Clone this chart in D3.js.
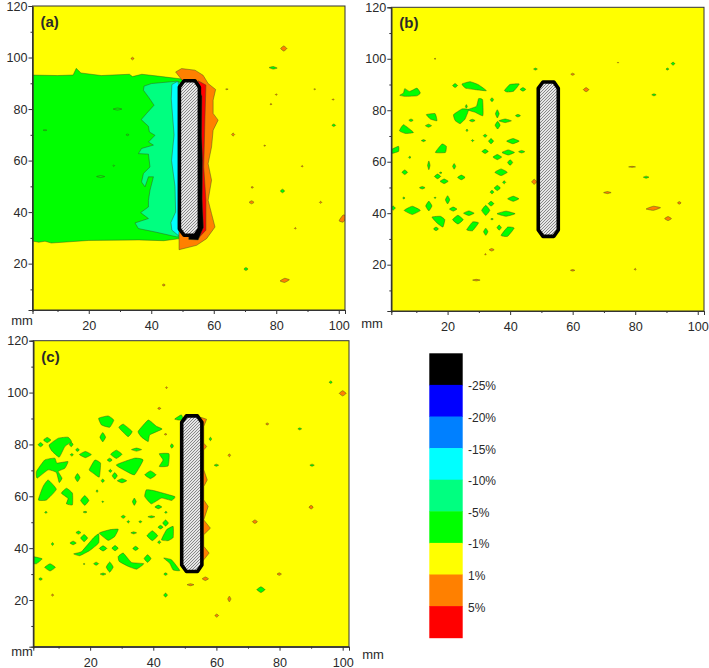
<!DOCTYPE html>
<html>
<head>
<meta charset="utf-8">
<style>
  body { margin: 0; background: #fff; }
  text { font-family: "Liberation Sans", Arial, sans-serif; fill: #2a2a2a; }
  .axis path, .axis line { stroke: #333; }
  .axis text { font-size: 12.6px; font-family: "Liberation Sans", Arial, sans-serif; fill: #2a2a2a; }
  .contour { stroke: #3c4a20; stroke-width: 0.6; stroke-opacity: 0.75; }
</style>
<script src="https://cdn.jsdelivr.net/npm/d3@7"></script>
</head>
<body>
<svg width="709" height="668"></svg>
<script>
// Axis values
var xDomain = [2, 102];
var yDomain = [2, 120];
var xMajor = [20, 40, 60, 80, 100];
var xMinor = [10, 30, 50, 70, 90];
var yMajor = [20, 40, 60, 80, 100, 120];
var yMinor = [10, 30, 50, 70, 90, 110];

// Colour bar
var legendColors = ['#000000', '#0000ff', '#0080ff', '#00ffff', '#00ff80', '#00ff00', '#ffff00', '#ff8000', '#ff0000'];
var legendLabels = ['-25%', '-20%', '-15%', '-10%', '-5%', '-1%', '1%', '5%'];

var GREEN = '#00ff00', SPRING = '#00ff80', CYAN = '#00ffff', ORANGE = '#ff8000', RED = '#ff0000', BLACK = '#000000';

// The notch outline, mm
var notch = [[49, 88.5], [50.5, 91], [54, 91], [55.4, 88.5], [55.4, 33.5], [54, 31], [50.5, 31], [49, 33.5]];

// Panel (a) contour regions, mm
var aGreen = [[1, 93.2], [10, 93], [15, 93.2], [16, 95.8], [17.5, 94], [24, 93], [33, 93.5], [34, 92.6], [37, 93.5], [42, 92.8], [46, 92.2], [51, 91.5],
  [51, 30], [44, 28.9], [36, 29.2], [20, 29], [8, 28], [6, 28.7], [4, 28.3], [1, 29]];
var aSpring = [[37.7, 88.9], [40.1, 89.9], [48.1, 90.8], [50, 90], [50, 30.4], [48.1, 30.4], [41.2, 32.3], [35.9, 33.6], [34.8, 35.8], [39.1, 37.5], [36.6, 39.8], [39.1, 42],
  [39.1, 44.6], [39.6, 48.5], [40.7, 53.7], [39.1, 53.7], [38, 49.8], [36.9, 51.7], [37.5, 55], [39.6, 57.5], [39.1, 62.5], [35.9, 62.7], [36.9, 64.7], [40.7, 66],
  [39.1, 67.2], [41.2, 69.8], [39.4, 71.1], [39.1, 73.3], [36.8, 75.9], [38.5, 78.3], [40.9, 81.5], [39.1, 84.7], [37.5, 87.3]];
var aCyan = [[48.5, 90.8], [46.6, 89.5], [46.4, 84], [47.3, 70], [46.5, 60], [47.6, 50], [47.8, 40], [46.3, 36], [46.6, 33], [48.8, 30.8], [50, 40], [50, 80]];
var aOrange = [[47.8, 94.4], [49.7, 95.7], [54, 95.1], [56.6, 93.1], [58.2, 89.9], [60.6, 87.6], [59.8, 83.4], [59.8, 78.3], [61.4, 75.7], [59.8, 71.8], [59.3, 65.3],
  [58.2, 58.8], [59.3, 52.4], [58.2, 44.6], [59.3, 39.4], [60.4, 34.2], [57.7, 29.7], [54.5, 27.1], [48.9, 25.4], [48.9, 31], [50, 91]];
var aRed = [[55, 91], [57.5, 89.3], [57.2, 77], [56.8, 57.5], [57.5, 44.6], [57.5, 33], [55, 29.8]];
var aBlack = [[55, 88], [56.2, 85], [56.1, 70], [56.4, 60], [56.3, 45], [56.7, 34], [55, 29.2], [52, 29.4], [52, 60]];

// Small closed contours as [x, y, half width, half height, tilt], mm
var aGreenDots = [[79, 96, 1.3, 0.5, -0.2], [98.4, 73.7, 0.6, 0.5], [82, 48.2, 0.7, 0.7], [70.3, 17.9, 0.7, 0.6],
  [29.2, 80, 1.4, 0.4], [6, 71.8, 0.6, 0.2], [32.4, 70, 0.5, 0.3], [23.8, 53.8, 1.3, 0.4], [28, 58, 0.3, 0.3]];
var aOrangeDots = [[82.4, 103.5, 1, 1], [34, 99.6, 0.5, 0.5], [66.2, 70.1, 0.5, 0.6], [72.1, 43.8, 0.8, 0.6], [82.7, 13.5, 1.5, 0.8, 0.3],
  [101.4, 37.5, 1.3, 1.4, 0.6], [44, 11.7, 0.5, 0.4], [94.2, 43.8, 0.4, 0.4], [80, 85.6, 0.3, 0.3], [78.3, 81.9, 0.3, 0.3], [98.2, 83.7, 0.3, 0.3],
  [76.3, 65.8, 0.3, 0.2], [72.3, 49.6, 0.4, 0.3], [88.3, 57.8, 0.3, 0.3], [86.1, 33.7, 0.3, 0.3], [92.3, 87.7, 0.3, 0.2], [64.2, 87.7, 0.4, 0.2]];

// Panel (b) larger contours, mm
var bGreenShapes = [
  [[4.7, 85.8], [5.9, 86.7], [6.3, 88.4], [7.9, 87.3], [10.2, 88.6], [11.3, 86.7], [10.2, 85.6], [6.5, 85.4]],
  [[24.6, 90.2], [27.2, 91.1], [29.9, 89.9], [32.4, 87.6], [28.9, 88], [25.7, 88.6]],
  [[38.2, 87.7], [39.9, 90], [42.9, 90.2], [41.1, 87.4], [39, 87.1]],
  [[26.4, 80.2], [29.2, 81.5], [29.9, 84.5], [31.2, 84.1], [31.3, 77.9], [28.8, 79.2]],
  [[21.9, 78.3], [24.6, 80.5], [26.7, 80.2], [25.6, 76.6], [24, 74.8], [22.4, 76]],
  [[13.2, 78.3], [16, 78.7], [16.6, 75.9], [14.5, 76.6]],
  [[4.6, 72], [5.9, 74.4], [9.1, 71.4], [6.5, 71]],
  [[16.1, 63.6], [18.2, 66.9], [19.6, 66], [19.3, 63.6]],
  [[1.5, 63], [1.5, 64.4], [4.3, 66], [4.3, 64]],
  [[15, 38.5], [17.7, 38.8], [19.1, 37.5], [18.5, 34.6], [16.6, 36.2]]
];
var bGreenDots = [[22.4, 89.6, 0.8, 0.8], [44.1, 88.1, 0.9, 0.7], [34.2, 84.1, 0.5, 0.8], [26, 81.5, 0.3, 0.7], [8.3, 76.1, 0.7, 0.5], [13.9, 74, 1, 0.6], [27.9, 76, 0.9, 0.5],
  [35.9, 78.6, 0.6, 1.6], [42.5, 77.9, 0.8, 0.5], [36, 74.2, 0.8, 1.5], [38.4, 75.9, 2, 0.7], [26.2, 72.2, 0.3, 0.5], [32, 70.1, 0.6, 0.6], [12.3, 68.2, 0.7, 0.4],
  [28, 68.2, 0.4, 0.4], [33.9, 68, 0.8, 1], [40.9, 68, 2, 1], [32, 64, 1, 0.8], [39.4, 63.6, 2, 1], [43.7, 63.9, 1, 0.5], [35.9, 61.8, 1.4, 1], [7.9, 61.7, 0.4, 0.4],
  [40, 59.7, 0.8, 1.1], [14, 58.6, 0.4, 1.7], [22.1, 58.2, 0.5, 1.1], [6.3, 55.9, 0.9, 0.9], [37.1, 55.9, 2, 1.3], [16.8, 54.3, 1, 0.9], [18.9, 52.4, 1.3, 0.9],
  [17.8, 55.7, 0.4, 0.3], [24.4, 53.9, 1.2, 0.9], [38.1, 52, 0.5, 0.6], [11.9, 49.9, 0.9, 0.5], [35.9, 49.8, 1, 1], [34.2, 48.2, 0.6, 0.7], [6, 45.9, 0.4, 0.4],
  [16, 46, 0.3, 0.3], [20, 45.2, 0.7, 1.6], [41, 45.6, 1.8, 1], [14, 42.8, 1, 1.9], [33.9, 43.7, 0.9, 0.9], [8.7, 41.1, 2.6, 1.6], [2.6, 42, 0.7, 0.8], [21.8, 41.6, 1.2, 0.8],
  [32.2, 41.1, 1.3, 2], [26.8, 40, 1.7, 0.9], [38.7, 39.8, 2.9, 1], [23.3, 37.5, 1.7, 1.7], [28, 34.9, 1.9, 1.7, 0.8], [16.3, 33.9, 0.8, 0.7], [32.2, 32.8, 0.7, 1.4],
  [36.5, 34.4, 0.7, 1], [39.2, 32.8, 2.1, 1.8, 0.8], [34.2, 37.7, 0.4, 0.3], [48.1, 96, 0.6, 0.4], [90.3, 96, 0.5, 0.4], [92.1, 98.1, 0.6, 0.6], [86, 86, 0.7, 0.4], [83.5, 54, 0.9, 0.4]];
var bOrangeDots = [[64.3, 88, 0.9, 0.8], [60, 94, 0.6, 0.4], [34.1, 25.8, 0.8, 0.5], [29.2, 14, 1.2, 0.3], [60, 17.8, 0.7, 0.3], [80, 18.2, 0.3, 0.4], [16, 100, 0.3, 0.2],
  [47.7, 52.2, 0.8, 1], [71.1, 48, 1.2, 0.4], [79, 58, 1.1, 0.2], [85.8, 41.9, 2.3, 0.8, 0.3], [90.5, 37.9, 1.1, 0.8], [94.1, 44, 0.6, 0.5], [32.1, 24, 0.2, 0.3], [74.5, 98.5, 0.2, 0.2]];

// Panel (c) larger contours, mm
var cGreenShapes = [
  [[7, 79.8], [9.9, 82.4], [13, 82.8], [14.1, 81.1], [12, 79.2], [10.2, 75.1], [7.8, 77.6]],
  [[3.2, 67], [3, 69.6], [5.6, 74], [8.8, 74.7], [9.5, 72.8], [13, 73.4], [12, 70.8], [9.9, 69.6], [11.1, 67], [10.2, 65.3], [9.3, 69.2], [6.7, 70.2]],
  [[3.6, 58.6], [5.1, 63.8], [6.7, 66.3], [9.3, 62.7], [6.2, 58.6]],
  [[10.9, 61.2], [12.5, 63.1], [14.4, 61.2], [14.4, 56.7], [12.5, 57.1], [13, 59.2]],
  [[19.7, 70.2], [21.5, 74], [23.3, 72.8], [22.9, 67.4], [21, 68.9]],
  [[22.7, 90.1], [25.7, 91], [27.5, 89.4], [26.2, 86.6], [23.6, 87.5]],
  [[29.1, 86.5], [30.5, 87.8], [33.3, 85], [32, 83]],
  [[35.2, 85], [38.4, 89.4], [41, 87], [42.8, 85.9], [38.9, 83.7], [38.4, 81.1], [36.3, 82.8]],
  [[28.3, 72.1], [34.1, 74.7], [36.8, 74], [34.1, 68.3], [31.5, 69.6]],
  [[41.9, 76.4], [45, 76.4], [44.7, 71.7], [41.9, 71.5], [43.1, 74]],
  [[37.8, 62.5], [40.1, 62.2], [46.8, 59.9], [45.8, 58.4], [42.6, 59.3], [39.4, 57.1], [37.3, 59.9]],
  [[42.6, 43.2], [44.2, 47.1], [46.3, 48.4], [46.3, 44.1], [44.7, 42.9]],
  [[22.9, 45.8], [26.2, 47.1], [28.9, 47.3], [27.8, 44.5], [25.7, 43]],
  [[14.8, 37.8], [17.3, 38.7], [21, 43.9], [22.7, 45.5], [22.7, 42], [19.9, 39.1], [16.7, 37.1]],
  [[28.9, 36.8], [30.5, 38.1], [33.1, 34.5], [37, 34], [34.7, 31.9], [32, 33], [29.2, 34.9]],
  [[1.5, 36.8], [4.8, 35.9], [3, 34], [1.5, 34.2]],
  [[43.3, 36.2], [45.8, 35.5], [48.4, 31.4], [46.3, 31.6], [45.2, 34.2]],
  [[46.8, 89.8], [48.9, 91.4], [49.5, 89.4], [48, 89.4]]
];
var cGreenDots = [[18.3, 58.4, 1.3, 1.9], [16, 67.2, 0.8, 1.6], [6.4, 81.7, 1.2, 1], [4.3, 79.9, 0.8, 0.8], [14, 80, 0.6, 0.9], [16, 77.9, 0.6, 0.6], [14.2, 76, 0.5, 0.5],
  [18.5, 76.1, 1.9, 1.2], [24, 82.8, 0.9, 1.8], [34.7, 78, 1.6, 0.6], [28.3, 76.2, 1.8, 1.6], [26.2, 74, 0.8, 0.7], [27.8, 67.9, 0.8, 1.3], [30.1, 66, 1.5, 0.8],
  [39.1, 68.3, 1.8, 1.5], [26.4, 69.8, 0.5, 0.6], [24, 66, 0.5, 0.7], [22.2, 62, 0.3, 0.5], [45.9, 79.4, 0.5, 0.9], [41.6, 55.9, 1.1, 0.7], [44, 53.8, 0.4, 0.4],
  [34, 57.9, 0.6, 1.4], [24, 57.9, 0.3, 0.3], [18.4, 53.9, 0.6, 0.3], [6, 53.8, 0.4, 0.4], [30.5, 52.1, 0.7, 0.6], [32.1, 50.2, 0.4, 0.5], [35.9, 50.2, 0.5, 0.4],
  [39.4, 52.1, 1.1, 0.4], [43.9, 49.7, 0.9, 1.2], [42.3, 48.1, 0.8, 0.7], [39.7, 44.8, 1.7, 1.9], [33.8, 45.9, 0.9, 0.4], [41.9, 42.3, 0.5, 0.6], [18.1, 43.9, 1.1, 1.4],
  [16.3, 46, 0.8, 0.6], [14.6, 42, 1, 0.7], [8.1, 41.6, 0.4, 0.6], [24.1, 39.9, 1.2, 1], [27.9, 40, 1, 1], [34.4, 39.9, 0.9, 0.8], [38.2, 36, 1.1, 1.5], [26.2, 32.7, 1.1, 2],
  [21.9, 34, 0.8, 0.6], [18.1, 33.9, 0.3, 0.2], [24.1, 30, 0.9, 0.4], [43.9, 30, 0.6, 0.5], [43.9, 21.9, 0.6, 0.8], [4.3, 28.1, 0.6, 0.5], [7.3, 32.6, 1.7, 1.4],
  [58.1, 82.1, 0.4, 0.7], [60, 72, 0.7, 0.4], [90.3, 72, 0.7, 0.4], [86.4, 86, 0.6, 0.4], [96.2, 104, 0.5, 0.5], [74.1, 24, 1.3, 1.1]];
var cOrangeDots = [[100, 99.7, 1.1, 1], [76.1, 87.9, 0.5, 0.4], [64.1, 75.8, 0.4, 0.6], [41.9, 93.9, 0.5, 0.4], [44.2, 101.9, 0.3, 0.3], [72.2, 50.2, 0.8, 0.7], [90, 55.8, 0.7, 0.7],
  [79.9, 30, 0.7, 0.5], [56.5, 28.2, 1, 0.7], [51.8, 25.9, 1.1, 0.4], [60.1, 14, 0.6, 0.6], [64.1, 20.4, 0.5, 1.1], [8.1, 21.9, 0.4, 0.4], [43.9, 83.9, 0.4, 0.3]];
var cOrangeEdge = [[55, 90.5], [56.9, 89.7], [56, 86.9], [56, 80.5], [56.9, 79.2], [56, 77.9], [56, 70.2], [57.1, 66.3], [56, 63.8], [56, 58.6], [57.4, 56.1], [56, 50.9],
  [58.1, 47.7], [56, 45.2], [56, 40.7], [57.7, 38.1], [56, 35.5], [55, 34.2]];

var panels = [
  { name: 'a', left: 32.5, right: 345, top: 6, bottom: 310, mm: [[22, 325]],
    regions: [[aGreen, GREEN], [aSpring, SPRING], [aCyan, CYAN], [aOrange, ORANGE], [aRed, RED], [aBlack, BLACK]],
    shapes: [], greenDots: aGreenDots, orangeDots: aOrangeDots },
  { name: 'b', left: 391.3, right: 704, top: 7.3, bottom: 311, mm: [[372, 328]],
    regions: [], shapes: bGreenShapes, greenDots: bGreenDots, orangeDots: bOrangeDots },
  { name: 'c', left: 33.3, right: 349, top: 340.7, bottom: 646.7, mm: [[22, 656], [373, 659]],
    regions: [[cOrangeEdge, ORANGE]], shapes: cGreenShapes, greenDots: cGreenDots, orangeDots: cOrangeDots }
];

var svg = d3.select('svg');
var defs = svg.append('defs');

// Hatching inside the notch
var hatch = defs.append('pattern')
  .attr('id', 'hatch')
  .attr('width', 3)
  .attr('height', 3)
  .attr('patternUnits', 'userSpaceOnUse');
hatch.append('rect').attr('width', 3).attr('height', 3).attr('fill', '#e6e6e6');
hatch.append('path')
  .attr('d', 'M-1,1 L1,-1 M0,3 L3,0 M2,4 L4,2')
  .attr('stroke', '#6f6f6f')
  .attr('stroke-width', 0.8);

// Turn a small contour into four outline points
function dotPoints(d) {
  var tilt = d[4] || 0;
  return [[d[0] - d[2], d[1] - tilt * d[3]], [d[0], d[1] + d[3]], [d[0] + d[2], d[1] + tilt * d[3]], [d[0], d[1] - d[3]]];
}

function drawPanel(p) {
  var x = d3.scaleLinear().domain(xDomain).range([p.left, p.right]);
  var y = d3.scaleLinear().domain(yDomain).range([p.bottom, p.top]);
  var g = svg.append('g');

  defs.append('clipPath').attr('id', 'clip-' + p.name)
    .append('rect')
    .attr('x', p.left).attr('y', p.top)
    .attr('width', p.right - p.left).attr('height', p.bottom - p.top);

  var plot = g.append('g').attr('clip-path', 'url(#clip-' + p.name + ')');

  plot.append('rect')
    .attr('x', p.left).attr('y', p.top)
    .attr('width', p.right - p.left).attr('height', p.bottom - p.top)
    .attr('fill', '#ffff00');

  var smooth = d3.line().x(function (d) { return x(d[0]); }).y(function (d) { return y(d[1]); })
    .curve(d3.curveCardinalClosed.tension(0.6));
  var straight = d3.line().x(function (d) { return x(d[0]); }).y(function (d) { return y(d[1]); })
    .curve(d3.curveLinearClosed);

  p.regions.forEach(function (r) {
    plot.append('path').attr('class', 'contour').attr('d', straight(r[0])).attr('fill', r[1]);
  });
  p.shapes.forEach(function (s) {
    plot.append('path').attr('class', 'contour').attr('d', smooth(s)).attr('fill', GREEN);
  });
  plot.selectAll('path.green-dot').data(p.greenDots).enter().append('path')
    .attr('class', 'contour green-dot')
    .attr('d', function (d) { return smooth(dotPoints(d)); })
    .attr('fill', GREEN);
  plot.selectAll('path.orange-dot').data(p.orangeDots).enter().append('path')
    .attr('class', 'contour orange-dot')
    .attr('d', function (d) { return smooth(dotPoints(d)); })
    .attr('fill', ORANGE);

  plot.append('path')
    .attr('d', straight(notch))
    .attr('fill', 'url(#hatch)')
    .attr('stroke', '#000')
    .attr('stroke-width', 3.6)
    .attr('stroke-linejoin', 'round');

  // Frame
  g.append('rect')
    .attr('x', p.left).attr('y', p.top)
    .attr('width', p.right - p.left).attr('height', p.bottom - p.top)
    .attr('fill', 'none').attr('stroke', '#333').attr('stroke-width', 1);

  // Axes, long ticks carry labels and the short ones do not
  g.append('g').attr('class', 'axis')
    .attr('transform', 'translate(0,' + p.bottom + ')')
    .call(d3.axisBottom(x).tickValues(xMajor).tickSize(4).tickPadding(7).tickFormat(d3.format('d')));
  g.append('g').attr('class', 'axis')
    .attr('transform', 'translate(0,' + p.bottom + ')')
    .call(d3.axisBottom(x).tickValues(xMinor).tickSize(2).tickFormat(''));
  g.append('g').attr('class', 'axis')
    .attr('transform', 'translate(' + p.left + ',0)')
    .call(d3.axisLeft(y).tickValues(yMajor).tickSize(4).tickPadding(1).tickFormat(d3.format('d')));
  g.append('g').attr('class', 'axis')
    .attr('transform', 'translate(' + p.left + ',0)')
    .call(d3.axisLeft(y).tickValues(yMinor).tickSize(2).tickFormat(''));

  g.selectAll('text.unit').data(p.mm).enter().append('text')
    .attr('class', 'unit')
    .attr('x', function (d) { return d[0]; })
    .attr('y', function (d) { return d[1]; })
    .attr('text-anchor', 'middle')
    .style('font-size', '13px')
    .text('mm');

  g.append('text')
    .attr('x', p.left + 8)
    .attr('y', p.top + 21)
    .style('font-size', '15px')
    .style('font-weight', 'bold')
    .text('(' + p.name + ')');
}

function drawLegend() {
  var band = d3.scaleBand().domain(legendColors).range([353.3, 637.7]);
  svg.selectAll('rect.swatch').data(legendColors).enter().append('rect')
    .attr('class', 'swatch')
    .attr('x', 429.3)
    .attr('y', function (d) { return band(d); })
    .attr('width', 33.4)
    .attr('height', band.bandwidth() + 0.5)
    .attr('fill', function (d) { return d; });
  svg.selectAll('text.swatch-label').data(legendLabels).enter().append('text')
    .attr('class', 'swatch-label')
    .attr('x', 468)
    .attr('y', function (d, i) { return band(legendColors[i + 1]) + 5.5; })
    .style('font-size', '12px')
    .text(function (d) { return d; });
}

panels.forEach(drawPanel);
drawLegend();
</script>
</body>
</html>
